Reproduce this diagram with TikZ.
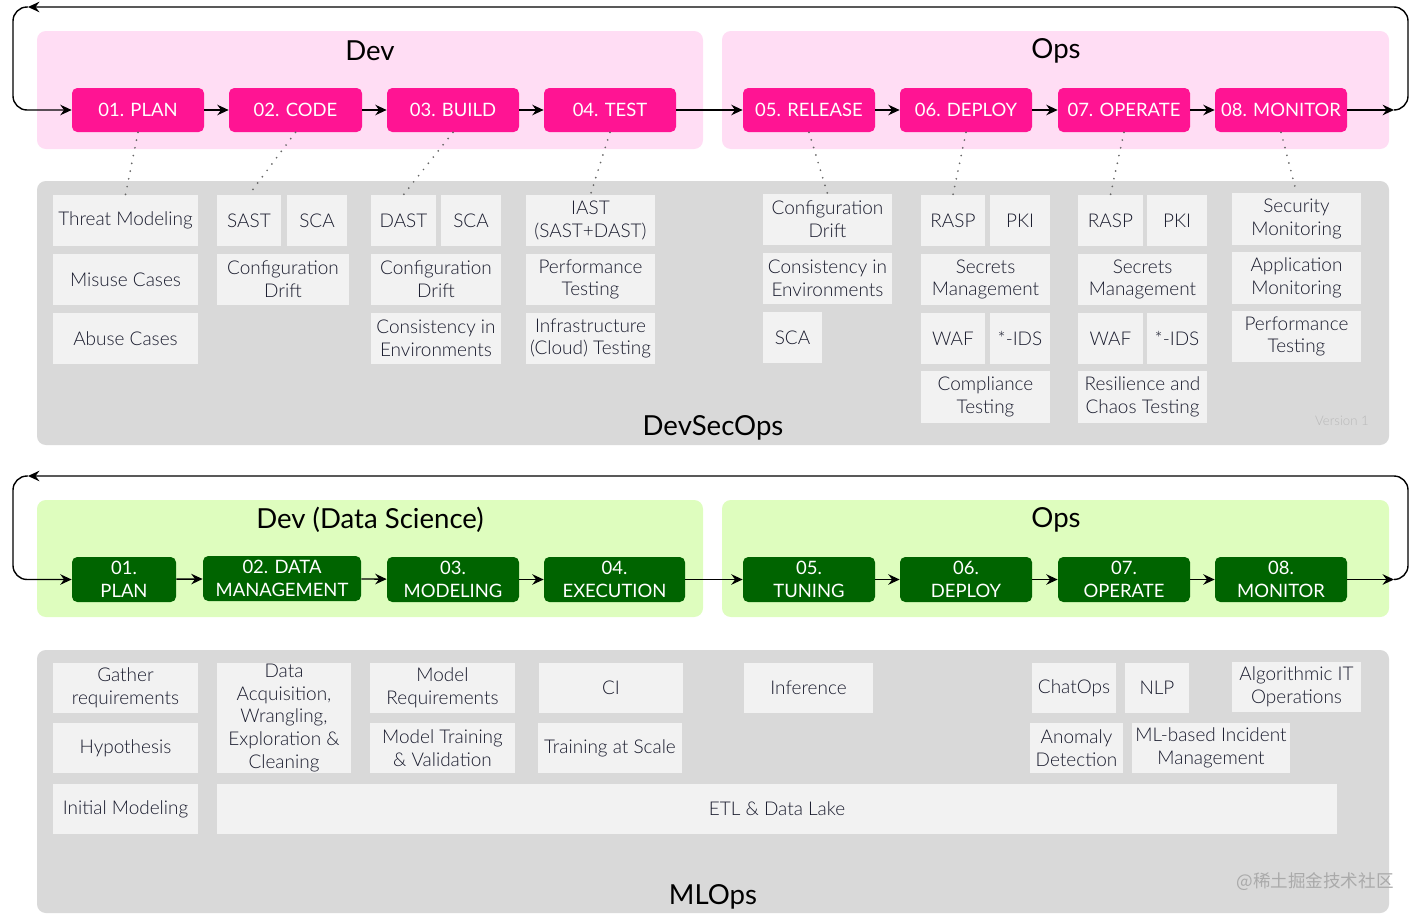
\documentclass[tikz,border=0pt]{standalone}
\usepackage{fontspec}
\IfFontExistsTF{Lato Light}{\setmainfont{Lato Light}}{\setmainfont{Lato}}
\newfontfamily\latoreg{Lato}
\newfontfamily\cjkfont{Noto Sans CJK SC}
\usepackage{tikz}
\usetikzlibrary{
	arrows.meta
}
\definecolor{pinkpanel}{RGB}{255,221,244}
\definecolor{pinkstage}{RGB}{255,20,147}
\definecolor{greenpanel}{RGB}{222,253,190}
\definecolor{greenstage}{RGB}{0,100,0}
\definecolor{graypanel}{RGB}{217,217,217}
\definecolor{itemfill}{RGB}{242,242,242}
\definecolor{itemtext}{RGB}{25,27,45}
\tikzset{
	spot/.style args={#1,#2,#3,#4}{minimum width={(#3-#1)*0.02cm}, minimum height={(#4-#2)*0.02cm}, at={({(#1+#3)/2},{(#2+#4)/2})}},
	panel/.style={fill=#1, rounded corners=5pt, inner sep=0pt},
	stagebox/.style={fill=#1, rounded corners=3pt, inner sep=0pt, text=white, align=center, font=\latoreg\fontsize{10.5}{13}\selectfont},
	item/.style={fill=itemfill, inner sep=0pt, align=center, text=itemtext, font=\fontsize{10.8}{13}\selectfont},
	title/.style={font=\latoreg\fontsize{15.7}{18}\selectfont},
	flow/.style={->, line width=0.8pt},
	dotlink/.style={black!60, line width=1.1pt, line cap=round, dash pattern=on 0pt off 4.5pt},
}

\begin{document}
\begin{tikzpicture}[x=0.02cm,y=-0.02cm,>={Stealth[length=6.5pt,width=6pt,inset=2.2pt]}]
		\useasboundingbox (0,0) rectangle (1420,916);
		% DevSecOps
		\node[panel=pinkpanel, spot={37,31,703,149}] (devP) {};
		\node[panel=pinkpanel, spot={722,31,1389,149}] (opsP) {};
		\node[panel=graypanel, spot={37,181,1389,445}] (secP) {};
		\node[title] (devT) at (370,51) {Dev};
		\node[title] (opsT) at (1056,51) {Ops};
		\node[title] (secT) at (713,428) {DevSecOps};
		\node[text={rgb,255:red,185;green,185;blue,185}, font=\fontsize{7.5}{9}\selectfont] (ver) at (1342,421) {Version 1};
		%
		\node[stagebox=pinkstage, spot={72,88,204,132}] (dPlan) {01. PLAN};
		\node[stagebox=pinkstage, spot={229,88,362,132}] (dCode) {02. CODE};
		\node[stagebox=pinkstage, spot={387,88,519,132}] (dBuild) {03. BUILD};
		\node[stagebox=pinkstage, spot={544,88,676,132}] (dTest) {04. TEST};
		\node[stagebox=pinkstage, spot={743,88,875,132}] (dRel) {05. RELEASE};
		\node[stagebox=pinkstage, spot={900,88,1032,132}] (dDep) {06. DEPLOY};
		\node[stagebox=pinkstage, spot={1058,88,1190,132}] (dOper) {07. OPERATE};
		\node[stagebox=pinkstage, spot={1215,88,1347,132}] (dMon) {08. MONITOR};
		%
		\node[item, spot={53,195,198,246}] (tm) {Threat Modeling};
		\node[item, spot={53,254,198,305}] (mc) {Misuse Cases};
		\node[item, spot={53,313,198,364}] (ac) {Abuse Cases};
		\node[item, spot={217,195,281,246}] (sast) {SAST};
		\node[item, spot={287,195,347,246}] (scaA) {SCA};
		\node[item, spot={217,254,349,305}] (cdA) {Configuration\\Drift};
		\node[item, spot={371,195,436,246}] (dast) {DAST};
		\node[item, spot={441,195,501,246}] (scaB) {SCA};
		\node[item, spot={371,254,501,305}] (cdB) {Configuration\\Drift};
		\node[item, spot={371,313,501,364}] (ceB) {Consistency in\\Environments};
		\node[item, spot={526,195,655,246}] (iast) {IAST\\(SAST+DAST)};
		\node[item, spot={526,254,655,305}] (ptA) {Performance\\Testing};
		\node[item, spot={526,313,655,364}] (ict) {Infrastructure\\(Cloud) Testing};
		\node[item, spot={763,194,892,245}] (cdC) {Configuration\\Drift};
		\node[item, spot={763,253,892,304}] (ceC) {Consistency in\\Environments};
		\node[item, spot={763,312,822,363}] (scaC) {SCA};
		\node[item, spot={921,195,985,246}] (raspA) {RASP};
		\node[item, spot={990,195,1050,246}] (pkiA) {PKI};
		\node[item, spot={921,254,1050,305}] (smA) {Secrets\\Management};
		\node[item, spot={921,313,985,364}] (wafA) {WAF};
		\node[item, spot={990,313,1050,364}] (idsA) {*-IDS};
		\node[item, spot={921,371,1050,423}] (comp) {Compliance\\Testing};
		\node[item, spot={1078,195,1143,246}] (raspB) {RASP};
		\node[item, spot={1147,195,1207,246}] (pkiB) {PKI};
		\node[item, spot={1078,254,1207,305}] (smB) {Secrets\\Management};
		\node[item, spot={1078,313,1143,364}] (wafB) {WAF};
		\node[item, spot={1147,313,1207,364}] (idsB) {*-IDS};
		\node[item, spot={1078,371,1207,423}] (chaos) {Resilience and\\Chaos Testing};
		\node[item, spot={1232,193,1361,245}] (secm) {Security\\Monitoring};
		\node[item, spot={1232,252,1361,304}] (appm) {Application\\Monitoring};
		\node[item, spot={1232,311,1361,362}] (ptB) {Performance\\Testing};
		%
		\path[flow]
			(dPlan) edge (dCode)
			(dCode) edge (dBuild)
			(dBuild) edge (dTest)
			(dTest) edge (dRel)
			(dRel) edge (dDep)
			(dDep) edge (dOper)
			(dOper) edge (dMon);
		\coordinate (dTipR) at (1394,110);
		\coordinate (dCornR) at (1408,110);
		\coordinate (dTopR) at (1408,7);
		\coordinate (dTipT) at (28,7);
		\coordinate (dTopL) at (13,7);
		\coordinate (dCornL) at (13,110);
		\draw[flow] (dMon) -- (dTipR);
		\draw[flow, rounded corners=8] (dTipR) -- (dCornR) -- (dTopR) -- (dTipT);
		\draw[flow, rounded corners=8] (dTipT) -- (dTopL) -- (dCornL) -- (dPlan);
		%
		\draw[dotlink] (dPlan.south) -- (tm.north);
		\draw[dotlink] (dCode.south) -- (sast.north);
		\draw[dotlink] (dBuild.south) -- (dast.north);
		\draw[dotlink] (dTest.south) -- (iast.north);
		\draw[dotlink] (dRel.south) -- (cdC.north);
		\draw[dotlink] (dDep.south) -- (raspA.north);
		\draw[dotlink] (dOper.south) -- (raspB.north);
		\draw[dotlink] (dMon.south) -- (secm.north);
		% MLOps
		\node[panel=greenpanel, spot={37,500,703,617}] (dsP) {};
		\node[panel=greenpanel, spot={722,500,1389,617}] (mopsP) {};
		\node[panel=graypanel, spot={37,650,1389,913}] (mlP) {};
		\node[title] (dsT) at (370,520) {Dev (Data Science)};
		\node[title] (mopsT) at (1056,520) {Ops};
		\node[title] (mlT) at (713,897) {MLOps};
		\node[text={rgb,255:red,170;green,170;blue,170}, font=\cjkfont\fontsize{10}{12}\selectfont] (mark) at (1315,882) {@稀土掘金技术社区};
		%
		\node[stagebox=greenstage, spot={72,557,176,602}] (mPlan) {01.\\PLAN};
		\node[stagebox=greenstage, spot={203,556,361,601}] (mData) {02. DATA\\MANAGEMENT};
		\node[stagebox=greenstage, spot={387,557,519,602}] (mModel) {03.\\MODELING};
		\node[stagebox=greenstage, spot={544,557,685,602}] (mExec) {04.\\EXECUTION};
		\node[stagebox=greenstage, spot={743,557,875,602}] (mTune) {05.\\TUNING};
		\node[stagebox=greenstage, spot={900,557,1032,602}] (mDep) {06.\\DEPLOY};
		\node[stagebox=greenstage, spot={1058,557,1190,602}] (mOper) {07.\\OPERATE};
		\node[stagebox=greenstage, spot={1215,557,1347,602}] (mMon) {08.\\MONITOR};
		%
		\node[item, spot={53,663,198,713}] (gath) {Gather\\requirements};
		\node[item, spot={53,723,198,773}] (hyp) {Hypothesis};
		\node[item, spot={53,784,198,834}] (imod) {Initial Modeling};
		\node[item, spot={217,663,351,773}] (acq) {Data\\Acquisition,\\Wrangling,\\Exploration \&\\Cleaning};
		\node[item, spot={370,663,515,713}] (mreq) {Model\\Requirements};
		\node[item, spot={370,723,515,773}] (mtrain) {Model Training\\\& Validation};
		\node[item, spot={539,663,683,713}] (ci) {CI};
		\node[item, spot={538,723,682,773}] (scale) {Training at Scale};
		\node[item, spot={217,784,1337,834}] (etl) {ETL \& Data Lake};
		\node[item, spot={744,663,873,713}] (infer) {Inference};
		\node[item, spot={1032,663,1116,713}] (chat) {ChatOps};
		\node[item, spot={1125,663,1189,713}] (nlp) {NLP};
		\node[item, spot={1232,662,1361,712}] (aiops) {Algorithmic IT\\Operations};
		\node[item, spot={1030,723,1123,773}] (anom) {Anomaly\\Detection};
		\node[item, spot={1132,723,1290,773}] (incid) {ML-based Incident\\Management};
		%
		\path[flow]
			(mPlan) edge (mData)
			(mData) edge (mModel)
			(mModel) edge (mExec)
			(mExec) edge (mTune)
			(mTune) edge (mDep)
			(mDep) edge (mOper)
			(mOper) edge (mMon);
		\coordinate (mTipR) at (1394,579.5);
		\coordinate (mCornR) at (1408,579.5);
		\coordinate (mTopR) at (1408,476);
		\coordinate (mTipT) at (28,476);
		\coordinate (mTopL) at (13,476);
		\coordinate (mCornL) at (13,579.5);
		\draw[flow] (mMon) -- (mTipR);
		\draw[flow, rounded corners=8] (mTipR) -- (mCornR) -- (mTopR) -- (mTipT);
		\draw[flow, rounded corners=8] (mTipT) -- (mTopL) -- (mCornL) -- (mPlan);
	\end{tikzpicture}
\end{document}
